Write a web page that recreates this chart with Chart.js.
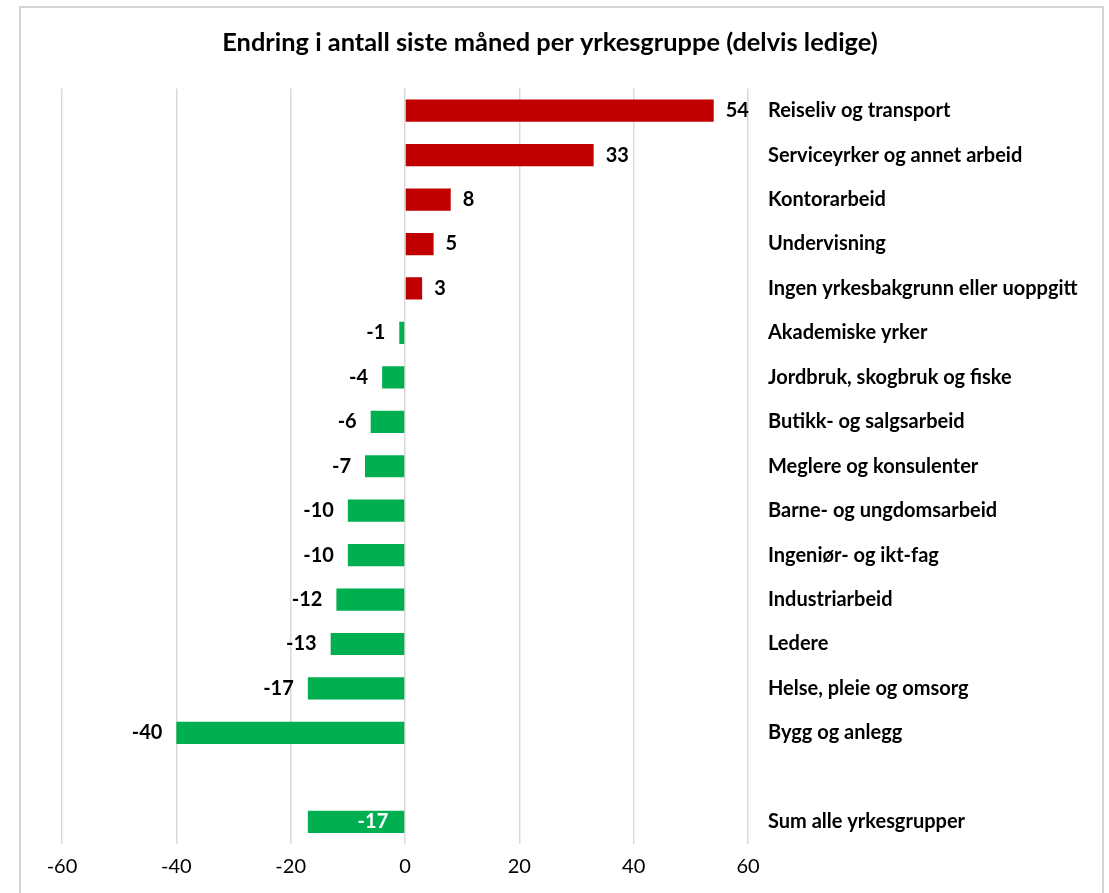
<!DOCTYPE html>
<html>
<head>
<meta charset="utf-8">
<script src="https://cdn.jsdelivr.net/npm/chart.js@4.4.1/dist/chart.umd.min.js"></script>
<style>
  html, body { margin: 0; padding: 0; background: #fff; }
  #frame {
    position: absolute; left: 19px; top: 6px; width: 1081px; height: 900px;
    border: 2px solid #d4d4d4;
  }
  #wrap { position: absolute; left: 0; top: 0; width: 1109px; height: 893px; }
</style>
</head>
<body>
<div id="frame"></div>
<div id="wrap"><canvas id="chart"></canvas></div>
<script>
const categories = [
  "Reiseliv og transport",
  "Serviceyrker og annet arbeid",
  "Kontorarbeid",
  "Undervisning",
  "Ingen yrkesbakgrunn eller uoppgitt",
  "Akademiske yrker",
  "Jordbruk, skogbruk og fiske",
  "Butikk- og salgsarbeid",
  "Meglere og konsulenter",
  "Barne- og ungdomsarbeid",
  "Ingeniør- og ikt-fag",
  "Industriarbeid",
  "Ledere",
  "Helse, pleie og omsorg",
  "Bygg og anlegg",
  "",
  "Sum alle yrkesgrupper"
];
const values = [54, 33, 8, 5, 3, -1, -4, -6, -7, -10, -10, -12, -13, -17, -40, null, -17];
const xTicks = [-60, -40, -20, 0, 20, 40, 60];

const RED = "#C00000";
const GREEN = "#00B050";
const FONT = "Lato, 'Open Sans', sans-serif";

// draw the value labels next to / inside the bars
const valueLabels = {
  id: "valueLabels",
  afterDatasetsDraw(chart) {
    const ctx = chart.ctx;
    const meta = chart.getDatasetMeta(0);
    ctx.save();
    ctx.font = "bold 20px " + FONT;
    ctx.textBaseline = "middle";
    meta.data.forEach((bar, i) => {
      const v = values[i];
      if (v === null) return;
      if (i === values.length - 1) {
        ctx.fillStyle = "#ffffff";
        ctx.textAlign = "right";
        ctx.fillText(String(v), bar.base - 16, bar.y);
      } else if (v >= 0) {
        ctx.fillStyle = "#000000";
        ctx.textAlign = "left";
        ctx.fillText(String(v), bar.x + 12, bar.y);
      } else {
        ctx.fillStyle = "#000000";
        ctx.textAlign = "right";
        ctx.fillText(String(v), bar.x - 14, bar.y);
      }
    });
    ctx.restore();
  }
};

new Chart(document.getElementById("chart"), {
  type: "bar",
  data: {
    labels: categories,
    datasets: [{
      data: values,
      backgroundColor: c => (c.raw >= 0 ? RED : GREEN),
      borderWidth: 0,
      barPercentage: 0.5,
      categoryPercentage: 1.0
    }]
  },
  options: {
    indexAxis: "y",
    responsive: true,
    maintainAspectRatio: false,
    animation: false,
    layout: { padding: { left: 0, right: 9, top: 0, bottom: 3 } },
    plugins: {
      legend: { display: false },
      tooltip: { enabled: false },
      title: {
        display: true,
        text: "Endring i antall siste måned per yrkesgruppe (delvis ledige)",
        color: "#000",
        font: { family: FONT, size: 25.4, weight: "bold", lineHeight: 1.2 },
        padding: { top: 28, bottom: 30 }
      }
    },
    scales: {
      x: {
        min: -60,
        max: 60,
        afterBuildTicks: s => { s.ticks = xTicks.map(v => ({ value: v })); },
        grid: { color: "#d9d9d9", lineWidth: 1.5, drawTicks: false },
        border: { display: false },
        ticks: { color: "#000", padding: 11, font: { family: FONT, size: 20 } }
      },
      y: {
        position: "right",
        afterFit: s => { s.width = 352; },
        grid: { display: false, drawTicks: false },
        border: { display: false },
        ticks: {
          color: "#000",
          padding: 20,
          autoSkip: false,
          font: { family: FONT, size: 20, weight: "bold" }
        }
      },
      // empty spacer on the left so the plot starts where the reference does
      spacer: {
        type: "category",
        axis: "y",
        position: "left",
        afterFit: s => { s.width = 62; },
        grid: { display: false, drawTicks: false },
        border: { display: false },
        ticks: { display: false }
      }
    }
  },
  plugins: [valueLabels]
});
</script>
</body>
</html>
